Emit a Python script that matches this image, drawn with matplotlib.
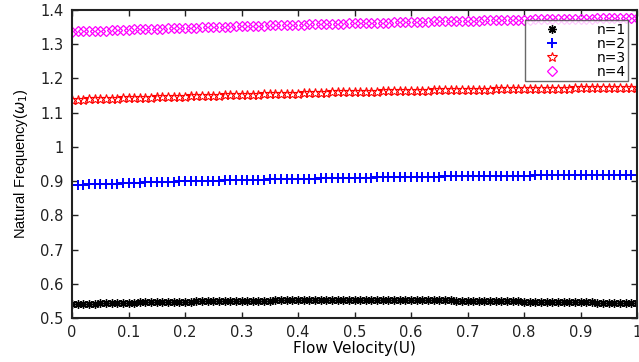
import matplotlib
matplotlib.use("Agg")
import matplotlib.pyplot as plt
import numpy as np

plt.rcParams.update({
    "font.family": "DejaVu Sans",
    "mathtext.fontset": "dejavusans",
    "xtick.direction": "in",
    "ytick.direction": "in",
    "xtick.top": True,
    "ytick.right": True,
})

# ── Data ──────────────────────────────────────────────
U = np.linspace(0, 1, 101)

w_n1 = [0.540, 0.541, 0.541, 0.542, 0.542, 0.543, 0.543, 0.544, 0.544, 0.545,
        0.545, 0.545, 0.546, 0.546, 0.546, 0.547, 0.547, 0.547, 0.548, 0.548,
        0.548, 0.548, 0.549, 0.549, 0.549, 0.549, 0.550, 0.550, 0.550, 0.550,
        0.551, 0.551, 0.551, 0.551, 0.551, 0.551, 0.552, 0.552, 0.552, 0.552,
        0.552, 0.552, 0.552, 0.552, 0.553, 0.553, 0.553, 0.553, 0.553, 0.553,
        0.553, 0.553, 0.553, 0.553, 0.554, 0.554, 0.554, 0.554, 0.554, 0.554,
        0.554, 0.553, 0.553, 0.553, 0.553, 0.552, 0.552, 0.552, 0.551, 0.551,
        0.551, 0.551, 0.550, 0.550, 0.550, 0.550, 0.549, 0.549, 0.549, 0.549,
        0.548, 0.548, 0.548, 0.548, 0.547, 0.547, 0.547, 0.547, 0.546, 0.546,
        0.546, 0.546, 0.546, 0.545, 0.545, 0.545, 0.545, 0.545, 0.544, 0.544, 0.544]

w_n2 = [0.889, 0.890, 0.890, 0.891, 0.891, 0.892, 0.892, 0.893, 0.893, 0.894,
        0.894, 0.895, 0.895, 0.896, 0.896, 0.897, 0.897, 0.898, 0.898, 0.899,
        0.899, 0.899, 0.900, 0.900, 0.901, 0.901, 0.901, 0.902, 0.902, 0.903,
        0.903, 0.903, 0.904, 0.904, 0.904, 0.905, 0.905, 0.905, 0.906, 0.906,
        0.906, 0.907, 0.907, 0.907, 0.908, 0.908, 0.908, 0.909, 0.909, 0.909,
        0.910, 0.910, 0.910, 0.910, 0.911, 0.911, 0.911, 0.911, 0.912, 0.912,
        0.912, 0.912, 0.913, 0.913, 0.913, 0.913, 0.914, 0.914, 0.914, 0.914,
        0.914, 0.915, 0.915, 0.915, 0.915, 0.915, 0.916, 0.916, 0.916, 0.916,
        0.916, 0.916, 0.917, 0.917, 0.917, 0.917, 0.917, 0.917, 0.917, 0.918,
        0.918, 0.918, 0.918, 0.918, 0.918, 0.918, 0.918, 0.918, 0.918, 0.918, 0.918]

w_n3 = [1.137, 1.138, 1.138, 1.139, 1.139, 1.140, 1.140, 1.141, 1.141, 1.142,
        1.142, 1.143, 1.143, 1.144, 1.144, 1.145, 1.145, 1.146, 1.146, 1.147,
        1.147, 1.148, 1.148, 1.149, 1.149, 1.150, 1.150, 1.151, 1.151, 1.152,
        1.152, 1.152, 1.153, 1.153, 1.154, 1.154, 1.155, 1.155, 1.155, 1.156,
        1.156, 1.157, 1.157, 1.157, 1.158, 1.158, 1.159, 1.159, 1.159, 1.160,
        1.160, 1.160, 1.161, 1.161, 1.161, 1.162, 1.162, 1.162, 1.163, 1.163,
        1.163, 1.164, 1.164, 1.164, 1.165, 1.165, 1.165, 1.165, 1.166, 1.166,
        1.166, 1.167, 1.167, 1.167, 1.167, 1.168, 1.168, 1.168, 1.168, 1.169,
        1.169, 1.169, 1.169, 1.169, 1.170, 1.170, 1.170, 1.170, 1.170, 1.171,
        1.171, 1.171, 1.171, 1.171, 1.171, 1.172, 1.172, 1.172, 1.172, 1.172, 1.172]

w_n4 = [1.337, 1.338, 1.338, 1.339, 1.339, 1.340, 1.340, 1.341, 1.341, 1.342,
        1.342, 1.343, 1.343, 1.344, 1.344, 1.345, 1.345, 1.346, 1.346, 1.347,
        1.347, 1.348, 1.348, 1.349, 1.349, 1.350, 1.350, 1.351, 1.351, 1.352,
        1.352, 1.353, 1.353, 1.354, 1.354, 1.355, 1.355, 1.355, 1.356, 1.356,
        1.357, 1.357, 1.358, 1.358, 1.358, 1.359, 1.359, 1.360, 1.360, 1.361,
        1.361, 1.361, 1.362, 1.362, 1.363, 1.363, 1.363, 1.364, 1.364, 1.365,
        1.365, 1.365, 1.366, 1.366, 1.367, 1.367, 1.367, 1.368, 1.368, 1.368,
        1.369, 1.369, 1.369, 1.370, 1.370, 1.370, 1.371, 1.371, 1.371, 1.372,
        1.372, 1.372, 1.373, 1.373, 1.373, 1.374, 1.374, 1.374, 1.374, 1.375,
        1.375, 1.375, 1.375, 1.376, 1.376, 1.376, 1.376, 1.377, 1.377, 1.377, 1.377]

labels = ["n=1", "n=2", "n=3", "n=4"]

# ── Figure ─────────────────────────────────────────────
fig = plt.figure(figsize=(6.39, 3.62), dpi=100)
ax = fig.add_axes([0.1127, 0.1215, 0.8842, 0.8509])

ax.plot(U, w_n1, linestyle="none", marker=(8, 2, 0), ms=6, color="black",
        mew=1.0, label=labels[0])
ax.plot(U, w_n2, linestyle="none", marker="+", ms=6.5, color="blue",
        mew=1.4, label=labels[1])
ax.plot(U, w_n3, linestyle="none", marker="*", ms=7, color="red",
        mfc="none", mew=0.8, label=labels[2])
ax.plot(U, w_n4, linestyle="none", marker="D", ms=5, color="magenta",
        mfc="none", mew=0.9, label=labels[3])

ax.set_xlim(0, 1)
ax.set_ylim(0.5, 1.4)
ax.set_xticks(np.arange(0, 1.01, 0.1))
ax.set_xticklabels(["0", "0.1", "0.2", "0.3", "0.4", "0.5",
                    "0.6", "0.7", "0.8", "0.9", "1"])
ax.set_yticks(np.arange(0.5, 1.41, 0.1))
ax.set_yticklabels(["0.5", "0.6", "0.7", "0.8", "0.9", "1",
                    "1.1", "1.2", "1.3", "1.4"])
ax.tick_params(labelsize=10.5, length=4, width=1.0, colors="#222222")
ax.tick_params(axis="y", pad=6)
ax.tick_params(axis="x", pad=5)
for s in ax.spines.values():
    s.set_linewidth(1.5)
    s.set_color("#222222")

ax.set_xlabel("Flow Velocity(U)", fontsize=11, labelpad=1)
ax.set_ylabel(r"Natural Frequency($\omega_1$)", fontsize=10.5,
              family="Liberation Sans", labelpad=7)

leg = ax.legend(loc="upper right", bbox_to_anchor=(0.984, 0.966),
                fontsize=10, frameon=True, fancybox=False,
                handlelength=3.6, handletextpad=1.4, labelspacing=0.0,
                borderpad=0.15, borderaxespad=0.0)
leg.get_frame().set_edgecolor("#444444")
leg.get_frame().set_linewidth(1.0)

fig.savefig("out.png", dpi=100)
